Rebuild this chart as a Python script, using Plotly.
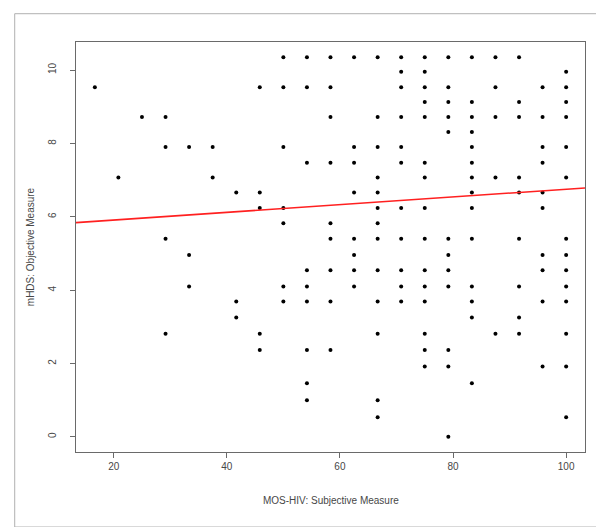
import plotly.graph_objects as go

# MOS-HIV subjective measure (x) and mHDS objective measure (y), read column by column
mos_hiv = (
    [16.67] + [20.83] + [25.0]
    + [29.17] * 4 + [33.33] * 3 + [37.5] * 2 + [41.67] * 3 + [45.83] * 5
    + [50.0] * 7 + [54.17] * 9 + [58.33] * 9 + [62.5] * 8 + [66.67] * 13
    + [70.83] * 11 + [75.0] * 15 + [79.17] * 12 + [83.33] * 14 + [87.5] * 5
    + [91.67] * 9 + [95.83] * 10 + [100.0] * 14
)
mhds = [
    9.53,
    7.07,
    8.72,
    8.72, 7.90, 5.40, 2.81,
    7.90, 4.96, 4.10,
    7.90, 7.07,
    6.66, 3.69, 3.25,
    9.53, 6.66, 6.24, 2.81, 2.37,
    10.35, 9.53, 7.90, 6.24, 5.82, 4.10, 3.69,
    10.35, 9.53, 7.47, 4.54, 4.10, 3.69, 2.37, 1.46, 1.00,
    10.35, 9.53, 8.72, 7.47, 5.82, 5.40, 4.54, 3.69, 2.37,
    10.35, 7.90, 7.47, 6.66, 5.40, 4.96, 4.54, 4.10,
    10.35, 8.72, 7.90, 7.07, 6.66, 6.24, 5.82, 5.40, 4.54, 3.69, 2.81, 1.00, 0.53,
    10.35, 9.95, 9.53, 8.72, 7.90, 7.47, 6.24, 5.40, 4.54, 4.10, 3.69,
    10.35, 9.95, 9.53, 9.13, 8.72, 7.47, 7.07, 6.24, 5.40, 4.54, 4.10, 3.69, 2.81, 2.37, 1.92,
    10.35, 9.53, 9.13, 8.72, 8.31, 5.40, 4.96, 4.54, 4.10, 2.37, 1.92, 0.00,
    10.35, 9.13, 8.72, 8.31, 7.90, 7.47, 7.07, 6.66, 6.24, 5.40, 4.10, 3.69, 3.25, 1.46,
    10.35, 9.53, 8.72, 7.07, 2.81,
    10.35, 9.13, 8.72, 7.07, 6.66, 5.40, 4.10, 3.25, 2.81,
    9.53, 8.72, 7.90, 7.47, 6.66, 6.24, 4.96, 4.54, 3.69, 1.92,
    9.95, 9.53, 9.13, 8.72, 7.90, 7.07, 5.40, 4.96, 4.54, 4.10, 3.69, 2.81, 1.92, 0.53,
]

# fitted regression line
fit_intercept = 5.70
fit_slope = 0.0105

x_title = "MOS-HIV: Subjective Measure"
y_title = "mHDS: Objective Measure"
x_ticks = [20, 40, 60, 80, 100]
y_ticks = [0, 2, 4, 6, 8, 10]

# R-style 4% axis extension
xmin, xmax = min(mos_hiv), max(mos_hiv)
ymin, ymax = min(mhds), max(mhds)
xr = [xmin - 0.04 * (xmax - xmin), xmax + 0.04 * (xmax - xmin)]
yr = [ymin - 0.04 * (ymax - ymin), ymax + 0.04 * (ymax - ymin)]

FONT = "Liberation Sans, Arial, sans-serif"
TXT = "#474747"

fig = go.Figure()
fig.add_trace(go.Scatter(
    x=mos_hiv, y=mhds, mode="markers",
    marker=dict(color="black", size=4, line=dict(width=0)),
    hoverinfo="x+y", showlegend=False,
))
fig.add_trace(go.Scatter(
    x=xr, y=[fit_intercept + fit_slope * v for v in xr], mode="lines",
    line=dict(color="#ff2020", width=1.6), showlegend=False, hoverinfo="skip",
))

axis_common = dict(
    showgrid=False, zeroline=False, showline=True, mirror=True,
    linecolor="#6a6a6a", linewidth=1, ticks="outside", ticklen=5,
    tickcolor="#6a6a6a", tickwidth=1,
    tickfont=dict(family=FONT, size=10, color=TXT),
)

fig.update_layout(
    width=604, height=527,
    margin=dict(l=68, r=27, t=34, b=83),
    paper_bgcolor="white", plot_bgcolor="white",
    xaxis=dict(range=xr, tickvals=x_ticks, **axis_common),
    yaxis=dict(range=yr, tickvals=y_ticks, tickangle=-90, ticklabelstandoff=10, **axis_common),
    annotations=[
        dict(text=x_title, xref="paper", yref="paper", x=0.5, y=-0.118,
             xanchor="center", yanchor="middle", showarrow=False,
             font=dict(family=FONT, size=10, color=TXT)),
        dict(text=y_title, xref="paper", yref="paper", x=-0.09, y=0.5,
             xanchor="center", yanchor="middle", showarrow=False, textangle=-90,
             font=dict(family=FONT, size=10, color=TXT)),
    ],
    shapes=[
        dict(type="rect", xref="paper", yref="paper",
             x0=-0.1204, x1=1.0387, y0=-0.183, y1=1.069,
             line=dict(color="#b0b0b0", width=1), fillcolor="rgba(0,0,0,0)", layer="below"),
    ],
)

fig.write_html("out.html")
